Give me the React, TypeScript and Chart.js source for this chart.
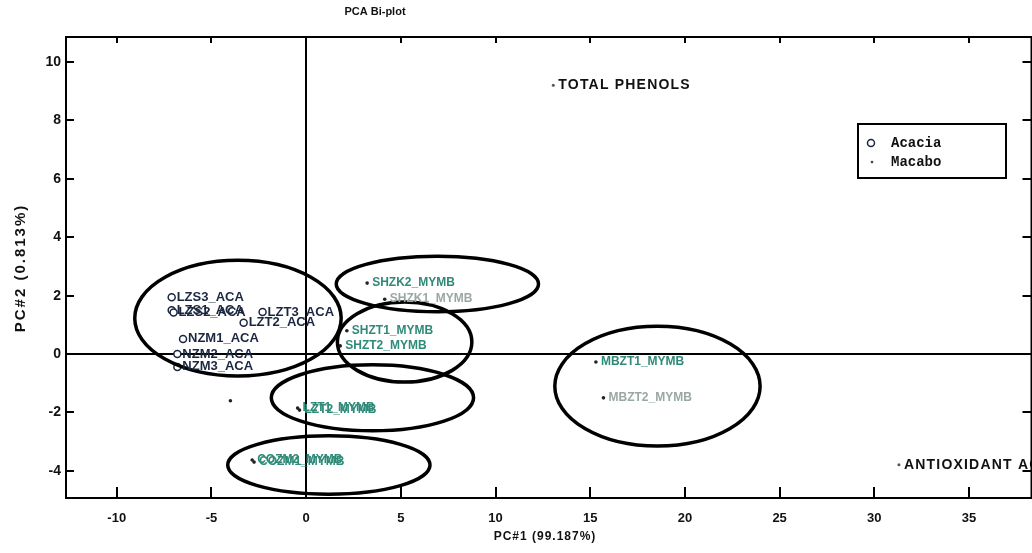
import React, { useEffect, useRef } from "react";
import { Chart, registerables } from "chart.js";
Chart.register(...registerables);

// ---- data ----
const acaciaNames = ["LZS3_ACA", "LZS1_ACA", "LZS2_ACA", "LZT3_ACA", "LZT2_ACA", "NZM1_ACA", "NZM2_ACA", "NZM3_ACA"];
const acaciaPC1 = [-7.1, -7.1, -7.0, -2.3, -3.3, -6.5, -6.8, -6.8];
const acaciaPC2 = [1.95, 1.5, 1.42, 1.44, 1.07, 0.52, 0.0, -0.44];

const macaboNames = ["SHZK2_MYMB", "SHZK1_MYMB", "SHZT1_MYMB", "SHZT2_MYMB", "LZT1_MYMB", "LZT2_MYMB", "COZM2_MYMB", "COZM1_MYMB", "MBZT1_MYMB", "MBZT2_MYMB", ""];
const macaboPC1 = [3.22, 4.15, 2.15, 1.8, -0.45, -0.35, -2.85, -2.75, 15.3, 15.7, -4.0];
const macaboPC2 = [2.43, 1.88, 0.8, 0.28, -1.85, -1.92, -3.63, -3.7, -0.27, -1.5, -1.6];

const loadingNames = ["TOTAL PHENOLS", "ANTIOXIDANT ACTIVITY"];
const loadingPC1 = [13.05, 31.3];
const loadingPC2 = [9.21, -3.79];

const ellipseCX = [-3.6, 6.93, 5.2, 3.5, 1.2, 18.55];
const ellipseCY = [1.23, 2.4, 0.41, -1.5, -3.8, -1.1];
const ellipseRX = [5.45, 5.34, 3.55, 5.34, 5.34, 5.42];
const ellipseRY = [1.98, 0.95, 1.37, 1.13, 1.0, 2.05];

const xTickValues = [-10, -5, 0, 5, 10, 15, 20, 25, 30, 35];
const yTickValues = [-4, -2, 0, 2, 4, 6, 8, 10];
const legendLabels = ["Acacia", "Macabo"];

const chartTitle = "PCA Bi-plot";
const xTitle = "PC#1 (99.187%)";
const yTitle = "PC#2 (0.813%)";

// ---- styles ----
const ACA_COLOR = "#1b2740";
const MAC_COLOR = "#2f8a78";
const MAC_FAINT = "#9aa8a4";
const faintLabels = new Set(["SHZK1_MYMB", "MBZT2_MYMB"]);
const SANS = "'Liberation Sans', Arial, sans-serif";

const overlay = {
  id: "overlay",
  beforeDatasetsDraw(chart: any) {
    const { ctx, chartArea: a, scales } = chart;
    const x = scales.x, y = scales.y;
    ctx.save();
    ctx.strokeStyle = "#000";
    ctx.lineWidth = 2;
    const x0 = Math.round(x.getPixelForValue(0));
    const y0 = Math.round(y.getPixelForValue(0));
    ctx.beginPath();
    ctx.moveTo(x0, a.top);
    ctx.lineTo(x0, a.bottom);
    ctx.moveTo(a.left, y0);
    ctx.lineTo(a.right, y0);
    ctx.stroke();
    ctx.restore();
  },
  afterDatasetsDraw(chart: any) {
    const { ctx, chartArea: a, scales } = chart;
    const x = scales.x, y = scales.y;
    ctx.save();
    // ellipses
    ctx.strokeStyle = "#000";
    ctx.lineWidth = 3.5;
    for (let i = 0; i < ellipseCX.length; i++) {
      const cx = x.getPixelForValue(ellipseCX[i]);
      const cy = y.getPixelForValue(ellipseCY[i]);
      const rx = Math.abs(x.getPixelForValue(ellipseCX[i] + ellipseRX[i]) - cx);
      const ry = Math.abs(y.getPixelForValue(ellipseCY[i] + ellipseRY[i]) - cy);
      ctx.beginPath();
      ctx.ellipse(cx, cy, rx, ry, 0, 0, Math.PI * 2);
      ctx.stroke();
    }
    // point labels
    ctx.textBaseline = "middle";
    ctx.textAlign = "left";
    ctx.font = `bold 13px ${SANS}`;
    for (let i = 0; i < acaciaNames.length; i++) {
      ctx.fillStyle = ACA_COLOR;
      ctx.fillText(acaciaNames[i], x.getPixelForValue(acaciaPC1[i]) + 5, y.getPixelForValue(acaciaPC2[i]));
    }
    ctx.font = `bold 12px ${SANS}`;
    for (let i = 0; i < macaboNames.length; i++) {
      ctx.fillStyle = faintLabels.has(macaboNames[i]) ? MAC_FAINT : MAC_COLOR;
      ctx.fillText(macaboNames[i], x.getPixelForValue(macaboPC1[i]) + 5, y.getPixelForValue(macaboPC2[i]));
    }
    ctx.font = `bold 14px ${SANS}`;
    ctx.fillStyle = "#111";
    (ctx as any).letterSpacing = "1.2px";
    for (let i = 0; i < loadingNames.length; i++) {
      ctx.fillText(loadingNames[i], x.getPixelForValue(loadingPC1[i]) + 5, y.getPixelForValue(loadingPC2[i]));
    }
    (ctx as any).letterSpacing = "0px";
    // frame
    ctx.strokeStyle = "#000";
    ctx.lineWidth = 2;
    ctx.strokeRect(a.left, a.top, a.right - a.left, a.bottom - a.top);
    // inward ticks
    ctx.lineWidth = 2;
    ctx.beginPath();
    for (const v of xTickValues) {
      const px = Math.round(x.getPixelForValue(v));
      ctx.moveTo(px, a.bottom);
      ctx.lineTo(px, a.bottom - 11);
      ctx.moveTo(px, a.top);
      ctx.lineTo(px, a.top + 6);
    }
    for (const v of yTickValues) {
      const py = Math.round(y.getPixelForValue(v));
      ctx.moveTo(a.left, py);
      ctx.lineTo(a.left + 8, py);
      ctx.moveTo(a.right, py);
      ctx.lineTo(a.right - 9, py);
    }
    ctx.stroke();
    // legend
    const lx = 858, ly = 124, lw = 148, lh = 54;
    ctx.fillStyle = "#fff";
    ctx.fillRect(lx, ly, lw, lh);
    ctx.strokeRect(lx, ly, lw, lh);
    ctx.beginPath();
    ctx.lineWidth = 1.5;
    ctx.strokeStyle = ACA_COLOR;
    ctx.arc(lx + 13, ly + 19, 3.5, 0, Math.PI * 2);
    ctx.stroke();
    ctx.fillStyle = "#444";
    ctx.beginPath();
    ctx.arc(lx + 14, ly + 38, 1.3, 0, Math.PI * 2);
    ctx.fill();
    ctx.fillStyle = "#111";
    ctx.font = `bold 14px 'Liberation Mono', 'DejaVu Sans Mono', monospace`;
    ctx.fillText(legendLabels[0], lx + 33, ly + 19);
    ctx.fillText(legendLabels[1], lx + 33, ly + 38);
    // titles
    ctx.fillStyle = "#111";
    ctx.textAlign = "center";
    ctx.font = `bold 11px ${SANS}`;
    ctx.fillText(chartTitle, 375, 12);
    ctx.font = `bold 12px ${SANS}`;
    (ctx as any).letterSpacing = "1px";
    ctx.fillText(xTitle, 545, 537);
    ctx.translate(21, 268);
    ctx.rotate(-Math.PI / 2);
    ctx.font = `bold 15px ${SANS}`;
    (ctx as any).letterSpacing = "2px";
    ctx.fillText(yTitle, 0, 0);
    ctx.restore();
  },
};

export default function App() {
  const ref = useRef<HTMLCanvasElement | null>(null);
  useEffect(() => {
    if (!ref.current) return;
    const chart = new Chart(ref.current, {
      type: "scatter",
      data: {
        datasets: [
          {
            label: legendLabels[0],
            data: acaciaPC1.map((v, i) => ({ x: v, y: acaciaPC2[i] })),
            pointStyle: "circle",
            pointRadius: 3.5,
            pointBorderWidth: 1.5,
            borderColor: ACA_COLOR,
            backgroundColor: "#fff",
          },
          {
            label: legendLabels[1],
            data: macaboPC1.map((v, i) => ({ x: v, y: macaboPC2[i] })),
            pointRadius: 1.8,
            pointBorderWidth: 0,
            borderColor: "#222",
            backgroundColor: "#222",
          },
          {
            label: "Loadings",
            data: loadingPC1.map((v, i) => ({ x: v, y: loadingPC2[i] })),
            pointRadius: 1.5,
            pointBorderWidth: 0,
            borderColor: "#555",
            backgroundColor: "#555",
          },
        ],
      },
      options: {
        animation: false,
        responsive: false,
        devicePixelRatio: 1,
        layout: { padding: { top: 37, right: 0, left: 0, bottom: 0 } },
        plugins: { legend: { display: false }, title: { display: false }, tooltip: { enabled: false } },
        scales: {
          x: {
            type: "linear",
            min: -12.68,
            max: 38.3,
            afterBuildTicks: (s: any) => { s.ticks = xTickValues.map((v) => ({ value: v })); },
            afterFit: (s: any) => { s.height = 55; },
            grid: { display: false, drawTicks: false },
            border: { display: false },
            ticks: {
              padding: 13,
              color: "#111",
              font: { family: "'Liberation Sans', Arial, sans-serif", size: 13, weight: "bold" },
              callback: (v: any) => String(v),
            },
          },
          y: {
            type: "linear",
            min: -4.93,
            max: 10.86,
            afterBuildTicks: (s: any) => { s.ticks = yTickValues.map((v) => ({ value: v })); },
            afterFit: (s: any) => { s.width = 66; },
            grid: { display: false, drawTicks: false },
            border: { display: false },
            ticks: {
              padding: 5,
              color: "#111",
              font: { family: "'Liberation Sans', Arial, sans-serif", size: 14, weight: "bold" },
              callback: (v: any) => String(v),
            },
          },
        },
      },
      plugins: [overlay],
    } as any);
    return () => chart.destroy();
  }, []);
  return (
    <div style={{ position: "absolute", left: 0, top: 0, width: 1032, height: 553, background: "#fff", overflow: "hidden" }}>
      <canvas ref={ref} width={1037} height={553} style={{ display: "block" }} />
    </div>
  );
}
